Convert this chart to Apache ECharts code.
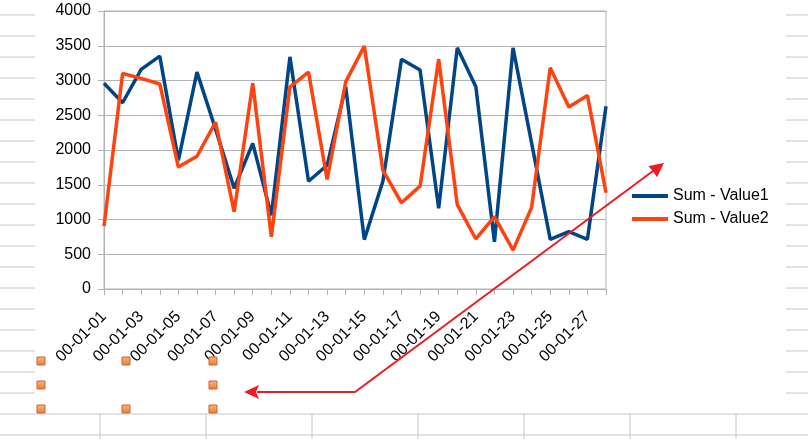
<!DOCTYPE html>
<html>
<head>
<meta charset="utf-8">
<script src="https://cdn.jsdelivr.net/npm/echarts@6/dist/echarts.min.js"></script>
<style>
html,body{margin:0;padding:0;background:#fff;}
#c{width:808px;height:439px;}
</style>
</head>
<body>
<div id="c"></div>
<script>
var categories = ["00-01-01","00-01-02","00-01-03","00-01-04","00-01-05","00-01-06","00-01-07","00-01-08","00-01-09","00-01-10","00-01-11","00-01-12","00-01-13","00-01-14","00-01-15","00-01-16","00-01-17","00-01-18","00-01-19","00-01-20","00-01-21","00-01-22","00-01-23","00-01-24","00-01-25","00-01-26","00-01-27","00-01-28"];
var value1 = [2960,2680,3160,3350,1850,3120,2300,1450,2095,1060,3340,1550,1780,2910,710,1550,3305,3150,1160,3470,2910,680,3470,2100,715,825,715,2630];
var value2 = [905,3100,3030,2950,1755,1910,2400,1110,2960,750,2910,3120,1575,2980,3495,1710,1240,1480,3305,1215,720,1040,560,1175,3185,2620,2785,1385];
var seriesNames = ["Sum - Value1","Sum - Value2"];
var yMin = 0, yMax = 4000, yStep = 500;

var gridColor = '#c6c6c6';
var graphics = [];
// spreadsheet background lines
for (var k = 0; k <= 18; k++) {
  var yy = 15 + 21 * k;
  graphics.push({type:'line', z:-10, shape:{x1:0,y1:yy,x2:35,y2:yy}, style:{stroke:gridColor,lineWidth:1}});
  graphics.push({type:'line', z:-10, shape:{x1:786,y1:yy,x2:808,y2:yy}, style:{stroke:gridColor,lineWidth:1}});
}
[414, 435].forEach(function(yy){
  graphics.push({type:'line', z:-10, shape:{x1:0,y1:yy,x2:808,y2:yy}, style:{stroke:gridColor,lineWidth:1}});
});
[100,206,312,418,524,630,736].forEach(function(xx){
  graphics.push({type:'line', z:-10, shape:{x1:xx,y1:414,x2:xx,y2:439}, style:{stroke:gridColor,lineWidth:1}});
});
// orange selection handles
[[41,361],[126,361],[213,361],[41,385],[213,385],[41,409],[126,409],[213,409]].forEach(function(p){
  graphics.push({type:'rect', z:50, shape:{x:p[0]-4,y:p[1]-4,width:8,height:8},
    style:{fill:{type:'linear',x:0,y:0,x2:0,y2:1,colorStops:[{offset:0,color:'#fcb680'},{offset:1,color:'#f07a2e'}]},
    stroke:'#c8643a',lineWidth:1}});
});
// red arrows
var red = '#ed1c24';
graphics.push({type:'polyline', z:60, shape:{points:[[653,171],[355,392],[257,392]]}, style:{stroke:red,lineWidth:2,fill:null}});
graphics.push({type:'polygon', z:60, shape:{points:[[244,392],[259,385],[256,392],[259,399]]}, style:{fill:red}});
graphics.push({type:'polygon', z:60, shape:{points:[[664,163],[648.5,166],[653,171.5],[657,177.2]]}, style:{fill:red}});

var chart = echarts.init(document.getElementById('c'), null, {renderer:'canvas'});
chart.setOption({
  animation:false,
  backgroundColor:'#ffffff',
  textStyle:{fontFamily:'Liberation Sans, Arial, sans-serif'},
  grid:{left:104,right:202,top:11,bottom:150,show:true,borderColor:'#b3b3b3',borderWidth:1,containLabel:false},
  legend:{
    orient:'vertical', left:627, top:182,
    icon:'rect', itemWidth:36, itemHeight:4, itemGap:5,
    textStyle:{fontSize:16,color:'#000',lineHeight:18,fontFamily:'Liberation Sans, Arial, sans-serif'},
    data:seriesNames
  },
  xAxis:{
    type:'category', data:categories, boundaryGap:false,
    axisLine:{lineStyle:{color:'#b3b3b3',width:1}},
    axisTick:{show:true,length:6,alignWithLabel:true,interval:0,lineStyle:{color:'#b3b3b3'}},
    axisLabel:{interval:1,rotate:45,fontSize:16,color:'#000',margin:25,fontFamily:'Liberation Sans, Arial, sans-serif'},
    splitLine:{show:false}
  },
  yAxis:{
    type:'value', min:yMin, max:yMax, interval:yStep,
    axisLine:{show:true,lineStyle:{color:'#b3b3b3',width:1}},
    axisTick:{show:true,length:6,lineStyle:{color:'#b3b3b3'}},
    axisLabel:{fontSize:16,color:'#000',margin:13,fontFamily:'Liberation Sans, Arial, sans-serif',
      formatter:function(v){return String(v);}},
    splitLine:{show:true,lineStyle:{color:'#b3b3b3',width:1}}
  },
  series:[
    {name:seriesNames[0], type:'line', data:value1, symbol:'none', color:'#004586', lineStyle:{width:3.5,color:'#004586'}, z:2},
    {name:seriesNames[1], type:'line', data:value2, symbol:'none', color:'#ff420e', lineStyle:{width:3.5,color:'#ff420e'}, z:3}
  ],
  graphic:graphics
});
</script>
</body>
</html>
